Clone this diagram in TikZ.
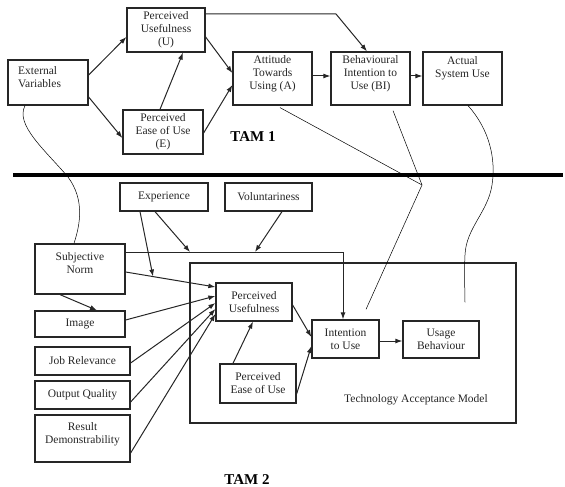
\documentclass[tikz,border=0pt]{standalone}
\usepackage{fontspec}
\setmainfont{Liberation Serif}
\usetikzlibrary{arrows.meta, positioning}

\begin{document}
\begin{tikzpicture}[x=1pt, y=-1pt,
    box/.style={draw=black!85, line width=1.25pt, inner sep=2pt, align=center,
        font=\fontsize{11.5}{13}\selectfont, text=black!85},
    txt/.style={inner sep=0pt, align=center, font=\fontsize{11.5}{13}\selectfont, text=black!85},
    arr/.style={line width=1pt, black!85, -{Latex[length=7pt, width=5pt]}},
    link/.style={line width=0.5pt, black}]
    \useasboundingbox (0,0) rectangle (565,487);

    % 1. TAM 1 boxes
    \node[box, minimum width=80, minimum height=45] (ev) at (48,82.5) {};
    \node[txt, align=left, anchor=west] (ev-t) at (18,77) {External\\Variables};
    \node[box, minimum width=78, minimum height=44] (pu1) at (166,30) {Perceived\\Usefulness\\(U)};
    \node[box, minimum width=80, minimum height=44] (pe1) at (163,132) {Perceived\\Ease of Use\\(E)};
    \node[box, minimum width=79, minimum height=53] (att) at (272.5,78.5) {};
    \node[txt] (att-t) at (272.5,74) {Attitude\\Towards\\Using (A)};
    \node[box, minimum width=79, minimum height=53] (bi) at (370.5,78.5) {};
    \node[txt] (bi-t) at (370.5,74) {Behavioural\\Intention to\\Use (BI)};
    \node[box, minimum width=79, minimum height=53] (asu) at (462.5,78.5) {};
    \node[txt] (asu-t) at (462.5,68) {Actual\\System Use};
    \node[font=\bfseries\fontsize{15}{18}\selectfont] (tam1) at (253,137) {TAM 1};

    % 2. TAM 1 arrows
    \coordinate (bend) at (336,14);
    \draw[arr] ([yshift=7.5]ev.east) -- ([yshift=-7]pu1.west);
    \draw[arr] ([yshift=-14.5]ev.east) -- ([yshift=-6]pe1.west);
    \draw[arr] ([xshift=-3]pe1.north) -- ([xshift=17]pu1.south);
    \draw[arr] ([yshift=-7]pu1.east) -- ([yshift=5.5]att.west);
    \draw[arr] ([yshift=-1]pe1.east) -- ([yshift=-6.5]att.west);
    \draw[arr] ([yshift=2.5]att.east) -- ([yshift=2.5]bi.west);
    \draw[arr] ([yshift=2.5]bi.east) -- ([yshift=2.5]asu.west);
    \draw[arr] ([yshift=16]pu1.east) -- (bend) -- ([xshift=-3.5]bi.north);

    % 3. Divider
    \draw[line width=3.5pt] (13,175) -- (563,175);

    % 4. TAM 2 boxes
    \node[box, minimum width=88, minimum height=28] (exp) at (164,197) {Experience};
    \node[box, minimum width=87, minimum height=28] (vol) at (268.5,197) {Voluntariness};
    \node[box, minimum width=90, minimum height=50] (sn) at (80,269) {};
    \node[txt] (sn-t) at (80,263) {Subjective\\Norm};
    \node[box, minimum width=90, minimum height=26] (img) at (80,324) {Image};
    \node[box, minimum width=95, minimum height=28] (job) at (82.5,361) {Job Relevance};
    \node[box, minimum width=95, minimum height=28] (oq) at (82.5,395) {Output Quality};
    \node[box, minimum width=95, minimum height=47] (rd) at (82.5,438.5) {};
    \node[txt] (rd-t) at (82.5,434) {Result\\Demonstrability};
    \node[box, minimum width=326, minimum height=160] (tam) at (353,343) {};
    \node[txt] (tam-t) at (416,400) {Technology Acceptance Model};
    \node[box, fill=white, minimum width=76, minimum height=38] (pu2) at (254,302) {Perceived\\Usefulness};
    \node[box, fill=white, minimum width=76, minimum height=39] (pe2) at (258,383.5) {Perceived\\Ease of Use};
    \node[box, fill=white, minimum width=67, minimum height=38] (int) at (345.5,339) {Intention\\to Use};
    \node[box, fill=white, minimum width=76, minimum height=37] (ub) at (441,339.5) {Usage\\Behaviour};
    \node[font=\bfseries\fontsize{15}{18}\selectfont] (tam2) at (247,480) {TAM 2};

    % 5. TAM 2 arrows
    \coordinate (snpu) at (153,276.5);
    \coordinate (modA) at (190,252);
    \coordinate (modB) at (255,252);
    \draw[arr] ([yshift=17]sn.east) -| ([xshift=-2.5]int.north);
    \draw[arr] ([yshift=-3]sn.east) -- ([yshift=15]pu2.west);
    \draw[arr] ([xshift=-24]exp.south) -- (snpu);
    \draw[arr] ([xshift=-9]exp.south) -- (modA);
    \draw[arr] ([xshift=13.5]vol.south) -- (modB);
    \draw[arr] ([xshift=-20]sn.south) -- ([xshift=17]img.north);
    \foreach \src/\a/\b in {img/4/6, job/-2/-1, oq/-7/-7, rd/-14.5/-12} {
        \draw[arr] ([yshift=\a]\src.east) -- ([yshift=\b]pu2.west);
    }
    \draw[arr] ([xshift=-25]pe2.north) -- ([xshift=-1]pu2.south);
    \draw[arr] ([yshift=-3]pu2.east) -- ([yshift=2]int.west);
    \draw[arr] ([yshift=-10.5]pe2.east) -- ([yshift=-7]int.west);
    \draw[arr] ([yshift=-2]int.east) -- ([yshift=-2]int.east -| ub.west);

    % 6. Thin links between the two models
    \coordinate (meet) at (422,185);
    \draw[link] ([xshift=-23]ev.south) .. controls (15,125) and (45,150) .. (68,177)
        .. controls (85,200) and (80,225) .. ([xshift=-6]sn.north);
    \draw[link] ([xshift=7.5,yshift=-2]att.south) -- (meet);
    \draw[link] ([xshift=22.5,yshift=-5]bi.south) -- (meet) -- ([xshift=20.5,yshift=10]int.north);
    \draw[link] ([xshift=5.5]asu.south) .. controls (490,130) and (496,160) .. (492,185)
        .. controls (488,212) and (466,228) .. (465,255)
        .. controls (464,275) and (465,290) .. ([xshift=24,yshift=18]ub.north);

\end{tikzpicture}
\end{document}
